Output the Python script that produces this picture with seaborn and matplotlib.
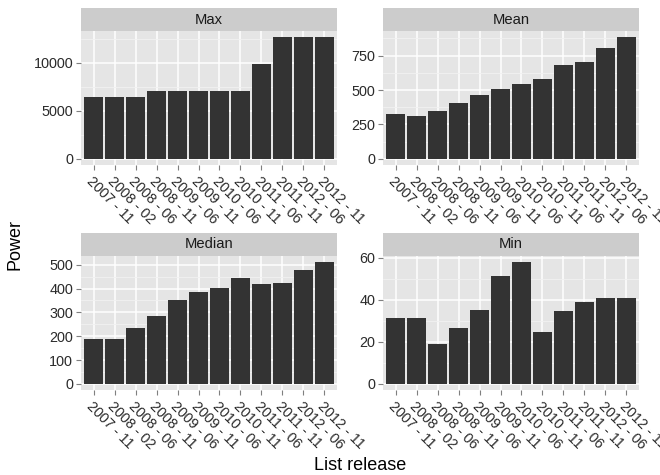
import matplotlib
matplotlib.use("Agg")
import matplotlib.pyplot as plt
from matplotlib.patches import Rectangle
from matplotlib.ticker import MultipleLocator
import seaborn as sns
import pandas as pd
import numpy as np

releases = ["2007 - 11", "2008 - 02", "2008 - 06", "2008 - 11", "2009 - 06", "2009 - 11",
            "2010 - 06", "2010 - 11", "2011 - 06", "2011 - 11", "2012 - 06", "2012 - 11"]
max_power = [6400, 6400, 6400, 7000, 7000, 7000, 7000, 7000, 9900, 12650, 12650, 12650]
mean_power = [325, 311, 347, 404, 462, 505, 541, 584, 684, 706, 806, 885]
median_power = [190, 190, 235, 284, 354, 387, 401, 445, 420, 424, 478, 511]
min_power = [31.3, 31.3, 19.1, 26.6, 35.0, 51.4, 58.0, 24.7, 34.5, 38.8, 41.1, 41.1]
stats = ["Max", "Mean", "Median", "Min"]
major_steps = {"Max": 5000, "Mean": 250, "Median": 100, "Min": 20}

df = pd.concat([
    pd.DataFrame({"release": releases, "stat": s, "power": v})
    for s, v in zip(stats, [max_power, mean_power, median_power, min_power])
], ignore_index=True)

sns.set_theme(style="white")
plt.rcParams["font.family"] = ["Liberation Sans", "DejaVu Sans"]

W, H = 660, 475
fig = plt.figure(figsize=(W / 100, H / 100), dpi=100)

# panel boxes in pixels: (left, top, width, height)
boxes = {
    "Max": (81, 31, 256, 134),
    "Mean": (383, 31, 256, 134),
    "Median": (81, 256, 256, 134),
    "Min": (383, 256, 256, 134),
}
strip_h = 23

for s in stats:
    l, t, w, h = boxes[s]
    ax = fig.add_axes([l / W, 1 - (t + h) / H, w / W, h / H])
    ax.set_facecolor("#E5E5E5")
    sub = df[df["stat"] == s]
    sns.barplot(data=sub, x="release", y="power", order=releases, color="#333333",
                saturation=1, width=0.9, ax=ax, edgecolor="none", linewidth=0, zorder=3)
    vmax = sub["power"].max()
    ax.set_ylim(-0.05 * vmax, 1.05 * vmax)
    ax.set_xlim(-0.6, len(releases) - 0.4)
    step = major_steps[s]
    ax.yaxis.set_major_locator(MultipleLocator(step))
    ax.yaxis.set_minor_locator(MultipleLocator(step / 2))
    ax.grid(which="major", color="white", linewidth=1.1, zorder=1)
    ax.grid(which="minor", axis="y", color="#F2F2F2", linewidth=0.6, zorder=0)
    ax.set_axisbelow(True)
    for sp in ax.spines.values():
        sp.set_visible(False)
    ax.set_xlabel("")
    ax.set_ylabel("")
    ax.tick_params(axis="both", which="major", length=3.6, width=0.8, color="#7F7F7F",
                   labelsize=10.4, labelcolor="#2B2B2B", pad=2, bottom=True, left=True)
    ax.tick_params(axis="x", which="major", pad=3)
    ax.tick_params(axis="y", which="minor", length=0)
    ax.set_xticks(range(len(releases)))
    ax.set_xticklabels(releases, rotation=-45, ha="left", va="top", rotation_mode="anchor")
    # facet strip
    ax.add_patch(Rectangle((0, 1), 1, strip_h / h, transform=ax.transAxes,
                           facecolor="#CCCCCC", edgecolor="none", clip_on=False, zorder=0))
    ax.text(0.5, 1 + strip_h / h / 2, s, transform=ax.transAxes, ha="center", va="center",
            fontsize=10.6, color="#1A1A1A")

fig.text(15 / W, 1 - 245 / H, "Power", rotation=90, ha="center", va="center",
         fontsize=13, color="black")
fig.text(360 / W, 1 - 465 / H, "List release", ha="center", va="center",
         fontsize=13, color="black")

fig.savefig("out.png", dpi=100, facecolor="white")
